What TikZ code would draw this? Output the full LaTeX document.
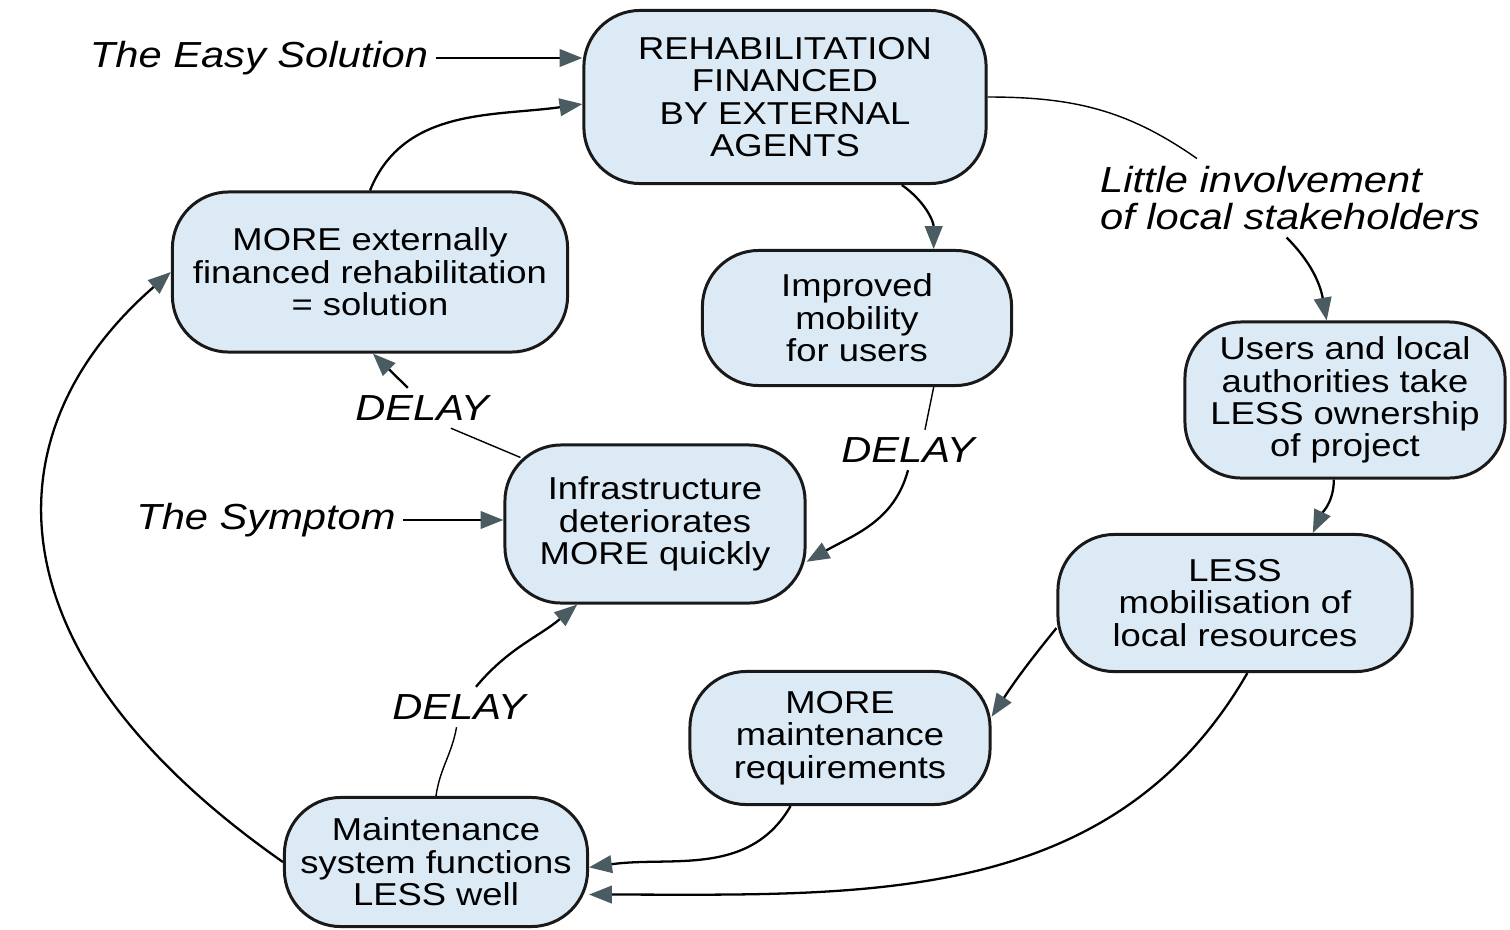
\documentclass[tikz,border=0pt]{standalone}
\usepackage{fontspec}
\setmainfont{Liberation Sans}[FakeStretch=1.15]
\usetikzlibrary{arrows.meta}
\definecolor{boxblue}{HTML}{DCEAF5}
\definecolor{tipgray}{HTML}{4A5B62}
\begin{document}
\begin{tikzpicture}[x=0.01cm,y=0.01cm,
    box/.style={draw=black!90, line width=0.85pt, fill=boxblue, rounded corners=16pt,
      align=center, inner sep=0pt, font=\fontsize{9}{9.2}\selectfont},
    lbl/.style={font=\fontsize{10.3}{10.5}\selectfont\itshape, inner sep=2pt},
    arr/.style={line width=0.65pt, -{Triangle[length=6.5pt,width=5pt,color=tipgray]}}]
  \useasboundingbox (0,0) rectangle (1510,929);
  \node[box, minimum width=4.02cm, minimum height=1.73cm] (rehab) at (785,832)
    {REHABILITATION\\FINANCED\\BY EXTERNAL\\AGENTS};
  \node[box, minimum width=3.95cm, minimum height=1.6cm] (more) at (370,657)
    {MORE externally\\financed rehabilitation\\= solution};
  \node[box, minimum width=3.09cm, minimum height=1.35cm] (mobility) at (857,611)
    {Improved\\mobility\\for users};
  \node[box, minimum width=3.2cm, minimum height=1.56cm] (owner) at (1345,529)
    {Users and local\\authorities take\\LESS ownership\\of project};
  \node[box, minimum width=3cm, minimum height=1.58cm] (infra) at (655,405)
    {Infrastructure\\deteriorates\\MORE quickly};
  \node[box, minimum width=3.54cm, minimum height=1.37cm] (mobil) at (1235,326)
    {LESS\\mobilisation of\\local resources};
  \node[box, minimum width=3cm, minimum height=1.33cm] (maintreq) at (840,191)
    {MORE\\maintenance\\requirements};
  \node[box, minimum width=3.03cm, minimum height=1.29cm] (maintsys) at (436,67)
    {Maintenance\\system functions\\LESS well};

  \node[lbl] (easy) at (259,871) {The Easy Solution};
  \node[lbl] (symptom) at (266,409) {The Symptom};
  \node[lbl, align=left] (little) at (1290,731) {Little involvement\\of local stakeholders};
  \node[lbl] (delaya) at (422,521) {DELAY};
  \node[lbl] (delayb) at (908,479) {DELAY};
  \node[lbl] (delayc) at (459,222) {DELAY};

  \draw[arr] (easy) -- (easy -| rehab.west);
  \draw[arr] (symptom) -- (symptom -| infra.west);
  \draw[arr] (more.north) to[out=68,in=188] (rehab.182);
  \draw[arr] (rehab.-37) to[out=-35,in=90] (mobility.42);
  \draw (rehab.east) to[out=0,in=145] (little.157);
  \draw[arr] (little.-95) to[out=-45,in=100] (owner.103);
  \draw[arr] (owner.-98) to[out=-90,in=65] (mobil.42);
  \draw[arr] (mobil.188) to[bend right=3] (maintreq.8);
  \draw[arr] (mobil.-80) to[out=-120,in=0] (maintsys.-12);
  \draw[arr] (maintreq.-126) to[out=-120,in=8] (maintsys.-2);
  \draw (maintsys.north) to[out=82,in=-100] (delayc.-97);
  \draw[arr] (delayc.50) to[out=50,in=-140] (infra.-134);
  \draw[arr] (maintsys.west) .. controls +(-297,208) and +(-184,-160) .. (more.west);
  \draw ([shift={(17,-14)}]infra.north west) -- (delaya.-35);
  \draw[arr] (delaya.125) -- (more.-88);
  \draw (mobility.-42) -- (delayb.50);
  \draw[arr] (delayb.south) to[out=-105,in=30] (infra.-14);
\end{tikzpicture}
\end{document}
